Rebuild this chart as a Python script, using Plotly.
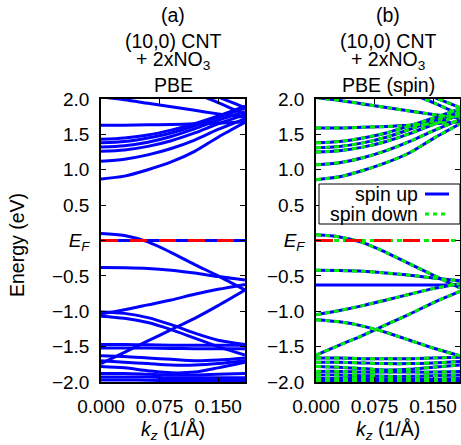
import plotly.graph_objects as go

W, H = 461, 445

K = [0.0, 0.03, 0.06, 0.09, 0.12, 0.15, 0.1845]

# Panel (a): PBE, non spin-polarised bands (eV relative to E_F)
BANDS_A = [
    [0.87, 0.91, 1.00, 1.11, 1.26, 1.46, 1.67],
    [1.12, 1.15, 1.21, 1.30, 1.42, 1.57, 1.72],
    [1.26, 1.28, 1.33, 1.41, 1.52, 1.65, 1.78],
    [1.32, 1.34, 1.39, 1.47, 1.58, 1.70, 1.82],
    [1.38, 1.40, 1.45, 1.52, 1.62, 1.74, 1.87],
    [1.43, 1.45, 1.49, 1.56, 1.65, 1.76, 1.90],
    [1.63, 1.63, 1.635, 1.64, 1.65, 1.66, 1.68],
    [2.03, 1.99, 1.94, 1.89, 1.84, 1.79, 1.74],
    [2.60, 2.45, 2.32, 2.20, 2.08, 1.95, 1.78],
    [2.80, 2.62, 2.46, 2.31, 2.17, 2.03, 1.88],
    [0.10, 0.07, -0.02, -0.17, -0.34, -0.50, -0.70],
    [0.0, 0.0, 0.0, 0.0, 0.0, 0.0, 0.0],
    [-0.38, -0.385, -0.395, -0.42, -0.46, -0.51, -0.56],
    [-1.04, -0.98, -0.91, -0.84, -0.76, -0.69, -0.62],
    [-1.01, -1.03, -1.09, -1.19, -1.31, -1.41, -1.47],
    [-1.07, -1.10, -1.16, -1.26, -1.38, -1.50, -1.62],
    [-1.74, -1.58, -1.42, -1.26, -1.10, -0.92, -0.70],
    [-1.47, -1.47, -1.475, -1.48, -1.48, -1.48, -1.48],
    [-1.52, -1.52, -1.52, -1.525, -1.53, -1.53, -1.53],
    [-1.63, -1.64, -1.66, -1.68, -1.70, -1.69, -1.66],
    [-1.70, -1.72, -1.74, -1.76, -1.76, -1.74, -1.70],
    [-1.78, -1.80, -1.84, -1.87, -1.86, -1.80, -1.72],
    [-1.88, -1.88, -1.89, -1.90, -1.90, -1.89, -1.88],
    [-1.93, -1.93, -1.93, -1.94, -1.94, -1.94, -1.94],
    [-1.97, -1.97, -1.975, -1.98, -1.98, -1.98, -1.98],
]

# Panel (b): PBE spin-polarised; bands common to both spins
BANDS_B = [
    [0.86, 0.90, 0.99, 1.10, 1.24, 1.44, 1.65],
    [1.07, 1.10, 1.17, 1.27, 1.40, 1.55, 1.71],
    [1.25, 1.27, 1.32, 1.40, 1.51, 1.64, 1.77],
    [1.31, 1.33, 1.38, 1.46, 1.57, 1.69, 1.81],
    [1.38, 1.40, 1.45, 1.52, 1.62, 1.73, 1.86],
    [1.59, 1.59, 1.60, 1.61, 1.63, 1.65, 1.68],
    [2.02, 1.98, 1.93, 1.88, 1.83, 1.78, 1.73],
    [2.60, 2.45, 2.32, 2.20, 2.08, 1.95, 1.78],
    [2.80, 2.62, 2.46, 2.31, 2.17, 2.03, 1.88],
    [0.08, 0.05, -0.03, -0.17, -0.33, -0.49, -0.67],
    [-0.42, -0.425, -0.435, -0.46, -0.49, -0.53, -0.57],
    [-1.05, -0.99, -0.92, -0.84, -0.76, -0.68, -0.61],
    [-1.12, -1.15, -1.21, -1.30, -1.41, -1.52, -1.63],
    [-1.62, -1.48, -1.34, -1.19, -1.04, -0.88, -0.72],
    [-1.66, -1.66, -1.67, -1.67, -1.67, -1.66, -1.65],
    [-1.72, -1.72, -1.73, -1.74, -1.74, -1.73, -1.71],
    [-1.78, -1.79, -1.81, -1.83, -1.82, -1.79, -1.76],
    [-1.85, -1.85, -1.86, -1.86, -1.86, -1.86, -1.85],
    [-1.90, -1.90, -1.91, -1.92, -1.92, -1.91, -1.90],
    [-1.95, -1.95, -1.95, -1.96, -1.96, -1.96, -1.95],
    [-1.99, -1.99, -1.99, -1.99, -1.99, -1.99, -1.99],
]
# spin-specific flat (NO3) levels
SPIN_UP_ONLY = [[-0.63, -0.63, -0.63, -0.63, -0.63, -0.63, -0.63]]
SPIN_DOWN_ONLY = [[0.0, 0.0, 0.0, 0.0, 0.0, 0.0, 0.0]]

FERMI = 0.0
Y_TICKS = [-2.0, -1.5, -1.0, -0.5, 0.0, 0.5, 1.0, 1.5, 2.0]
Y_LABELS = ["\u22122.0", "\u22121.5", "\u22121.0", "\u22120.5", "<i>E</i><sub><i>F</i></sub>",
            "0.5", "1.0", "1.5", "2.0"]
X_TICKS = [0.0, 0.075, 0.150]
X_LABELS = ["0.000", "0.075", "0.150"]
TITLES_A = ["(a)", "(10,0) CNT", "+ 2xNO<sub>3</sub>", "PBE"]
TITLES_B = ["(b)", "(10,0) CNT", "+ 2xNO<sub>3</sub>", "PBE (spin)"]

BLUE = "#0000ff"
GREEN = "#00ee00"
RED = "#ff0000"
FONT = "Liberation Sans, Arial, sans-serif"
FS = 19.5
TFS = 19

fig = go.Figure()

def band(xs, ys, xa, ya, color, dash=None, width=3):
    fig.add_trace(go.Scatter(x=xs, y=ys, xaxis=xa, yaxis=ya, mode="lines",
                             line=dict(color=color, width=width, dash=dash, shape="spline",
                                       smoothing=0.8),
                             showlegend=False, hoverinfo="skip"))

for b in BANDS_A:
    band(K, b, "x", "y", BLUE)
band([K[0], K[-1]], [FERMI, FERMI], "x", "y", RED, dash="17px,12px")

for b in BANDS_B + SPIN_UP_ONLY:
    band(K, b, "x2", "y2", BLUE)
for b in BANDS_B + SPIN_DOWN_ONLY:
    band(K, b, "x2", "y2", GREEN, dash="5px,4px")
band([K[0], K[-1]], [FERMI, FERMI], "x2", "y2", RED, dash="17px,12px")

# panel geometry in pixels
AX0, AX1 = 101, 245
BX0, BX1 = 316, 460
TOP, BOT = 99, 382

def px(x):
    return x / W

def py(y):
    return 1 - y / H

axis_common = dict(showline=True, linecolor="black", linewidth=1.5, mirror="ticks",
                   ticks="inside", ticklen=5, tickwidth=1, tickcolor="black",
                   showgrid=False, zeroline=False, ticklabelstandoff=6,
                   tickfont=dict(family=FONT, size=TFS, color="black"))

fig.update_layout(
    width=W, height=H, margin=dict(l=0, r=0, t=0, b=0, autoexpand=False),
    paper_bgcolor="white", plot_bgcolor="white",
    xaxis=dict(domain=[px(AX0), px(AX1)], range=[K[0], K[-1]], tickvals=X_TICKS,
               ticktext=X_LABELS, anchor="y", **axis_common),
    yaxis=dict(domain=[py(BOT), py(TOP)], range=[-2.0, 2.0], tickvals=Y_TICKS,
               ticktext=Y_LABELS, anchor="x", **axis_common),
    xaxis2=dict(domain=[px(BX0), px(BX1)], range=[K[0], K[-1]], tickvals=X_TICKS,
                ticktext=X_LABELS, anchor="y2", **axis_common),
    yaxis2=dict(domain=[py(BOT), py(TOP)], range=[-2.0, 2.0], tickvals=Y_TICKS,
                ticktext=Y_LABELS, anchor="x2", **axis_common),
)

ann = []
title_y = [15, 41, 61, 85]
for cx, titles in ((173, TITLES_A), (388, TITLES_B)):
    for t, ty in zip(titles, title_y):
        ann.append(dict(x=px(cx), y=py(ty), xref="paper", yref="paper", text=t,
                        showarrow=False, xanchor="center", yanchor="middle", borderpad=0,
                        font=dict(family=FONT, size=FS, color="black")))
    ann.append(dict(x=px(cx), y=py(430), xref="paper", yref="paper",
                    text="<i>k</i><sub><i>z</i></sub> (1/\u00c5)", showarrow=False,
                    xanchor="center", yanchor="middle",
                    font=dict(family=FONT, size=FS, color="black")))
ann.append(dict(x=px(17), y=py(245), xref="paper", yref="paper", text="Energy (eV)",
                textangle=-90, showarrow=False, xanchor="center", yanchor="middle",
                font=dict(family=FONT, size=FS, color="black")))

# legend (text left, sample right), gnuplot style
LEG = [("spin up", BLUE, "solid", 194), ("spin down", GREEN, "4px,4px", 214)]
shapes = [dict(type="rect", xref="paper", yref="paper", x0=px(319), x1=px(460),
               y0=py(224), y1=py(184), fillcolor="white", line=dict(color="black", width=1),
               layer="above")]
for name, col, dsh, ly in LEG:
    ann.append(dict(x=px(419), y=py(ly), xref="paper", yref="paper", text=name,
                    showarrow=False, xanchor="right", yanchor="middle", borderpad=0,
                    font=dict(family=FONT, size=FS, color="black")))
    shapes.append(dict(type="line", xref="paper", yref="paper", x0=px(425), x1=px(449),
                       y0=py(ly), y1=py(ly), line=dict(color=col, width=3, dash=dsh),
                       layer="above"))

fig.update_layout(annotations=ann, shapes=shapes)
fig.write_html("out.html", config={"displayModeBar": False},
               post_script="document.body.style.margin='0';document.body.style.overflow='hidden';")
